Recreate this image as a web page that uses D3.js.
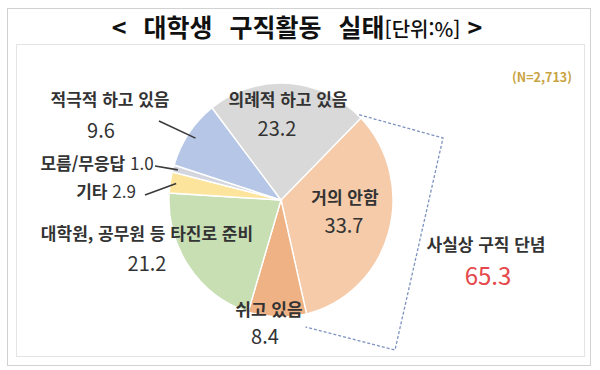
<!DOCTYPE html>
<html lang="ko">
<head>
<meta charset="UTF-8">
<title>대학생 구직활동 실태</title>
<script src="https://d3js.org/d3.v7.min.js"></script>
<style>
  body { margin: 0; background: #fff; }
  svg { display: block; }
  text { font-family: "Noto Sans CJK KR", "Noto Sans", sans-serif; fill: #333; }
  .lbl { font-size: 17px; font-weight: 700; }
  .val { font-size: 20px; font-weight: 400; }
  .num { font-weight: 400; }
</style>
</head>
<body>
<script>
// data
const categories = ["거의 안함", "쉬고 있음", "대학원, 공무원 등 타진로 준비", "기타", "모름/무응답", "적극적 하고 있음", "의례적 하고 있음"];
const shares = [33.7, 8.4, 21.2, 2.9, 1.0, 9.6, 23.2];
const sliceColors = ["#f5cbaa", "#eeb285", "#c8dfb4", "#fde49c", "#d3d6df", "#b5c6e6", "#d9d9d9"];
const giveUp = ["거의 안함", "쉬고 있음", "의례적 하고 있음"];
const sampleText = "(N=2,713)";

const width = 600, height = 370;
const cx = 281, cy = 200, R = 112, sy = 1.045;
const startDeg = 45.5;

const svg = d3.select("body").append("svg")
  .attr("width", width).attr("height", height);

// frames
svg.append("rect").attr("x", 7.5).attr("y", 8.5).attr("width", 583).attr("height", 357)
  .attr("fill", "#fff").attr("stroke", "#d2d2d2");
svg.append("rect").attr("x", 16.5).attr("y", 44.5).attr("width", 568).attr("height", 312)
  .attr("fill", "#fff").attr("stroke", "#e4e4e4");

// title
const title = svg.append("text").attr("x", 297).attr("y", 37)
  .attr("text-anchor", "middle").style("fill", "#111");
title.append("tspan").attr("font-size", 25).attr("font-weight", 700)
  .attr("word-spacing", "10px").text("< 대학생 구직활동 실태");
title.append("tspan").attr("font-size", 20).attr("font-weight", 500).text("[단위:%]");
title.append("tspan").attr("font-size", 25).attr("font-weight", 700).text(" >");

const pie = d3.pie().sort(null).value(d => d.v)
  .startAngle(startDeg * Math.PI / 180)
  .endAngle((startDeg + 360) * Math.PI / 180);
const rows = categories.map((c, i) => ({ c, v: shares[i], col: sliceColors[i] }));
const arcs = pie(rows);
const arc = d3.arc().innerRadius(0).outerRadius(R);

const gPie = svg.append("g").attr("transform", `translate(${cx},${cy}) scale(1,${sy})`);
gPie.selectAll("path").data(arcs).enter().append("path")
  .attr("d", arc)
  .attr("fill", d => d.data.col)
  .attr("stroke", "#fff").attr("stroke-width", 1.4);

// point on pie at angle a, radius r, in page coords
function pt(a, r) {
  return [cx + r * Math.sin(a), cy - r * Math.cos(a) * sy];
}
const byName = {};
arcs.forEach(d => byName[d.data.c] = d);

// label layout (label centre, value centre)
const labelPos = {
  "의례적 하고 있음": { l: [288, 100], v: [277, 129] },
  "거의 안함": { l: [345, 198], v: [344, 226] },
  "쉬고 있음": { l: [269, 310], v: [265, 337] },
  "대학원, 공무원 등 타진로 준비": { l: [147, 234], v: [147, 264] },
  "적극적 하고 있음": { l: [110, 100], v: [101, 131] }
};
const inlinePos = {
  "모름/무응답": { p: [97, 164], from: [155, 166] },
  "기타": { p: [106, 192], from: [145, 195] }
};

const gLab = svg.append("g");
Object.keys(labelPos).forEach(k => {
  const p = labelPos[k];
  gLab.append("text").attr("class", "lbl").attr("text-anchor", "middle")
    .attr("x", p.l[0]).attr("y", p.l[1]).attr("dy", "0.36em").text(k);
  gLab.append("text").attr("class", "val").attr("text-anchor", "middle")
    .attr("x", p.v[0]).attr("y", p.v[1]).attr("dy", "0.36em")
    .text(byName[k].data.v.toFixed(1));
});
Object.keys(inlinePos).forEach(k => {
  const p = inlinePos[k];
  const t = gLab.append("text").attr("class", "lbl").attr("text-anchor", "middle")
    .attr("x", p.p[0]).attr("y", p.p[1]).attr("dy", "0.36em");
  t.append("tspan").text(k + " ");
  t.append("tspan").attr("class", "num").text(byName[k].data.v.toFixed(1));
});

// leader lines
const leaders = [
  { k: "적극적 하고 있음", from: [159, 121], r: 104 },
  { k: "모름/무응답", from: inlinePos["모름/무응답"].from, r: 107 },
  { k: "기타", from: inlinePos["기타"].from, r: 106 }
];
leaders.forEach(l => {
  const d = byName[l.k];
  const to = pt((d.startAngle + d.endAngle) / 2, l.r);
  svg.append("line")
    .attr("x1", l.from[0]).attr("y1", l.from[1])
    .attr("x2", to[0]).attr("y2", to[1])
    .attr("stroke", "#3a3a3a").attr("stroke-width", 1.6);
});

// bracket around the give-up share
const bTop = pt(byName["거의 안함"].startAngle - 0.03, R + 1);
const bBot = pt(byName["거의 안함"].endAngle + 0.03, R + 12);
svg.append("path")
  .attr("d", d3.line()([bTop, [443, 138], [395, 350], bBot]))
  .attr("fill", "none").attr("stroke", "#7d93bf").attr("stroke-width", 1.3)
  .attr("stroke-dasharray", "3,2");

const giveUpSum = d3.sum(giveUp, k => byName[k].data.v);
svg.append("text").attr("class", "lbl").attr("text-anchor", "middle")
  .attr("x", 486).attr("y", 245).attr("dy", "0.36em").text("사실상 구직 단념");
svg.append("text").attr("text-anchor", "middle")
  .attr("x", 488).attr("y", 276).attr("dy", "0.36em")
  .attr("font-size", 24).style("fill", "#e5484a")
  .text(giveUpSum.toFixed(1));

svg.append("text").attr("text-anchor", "middle")
  .attr("x", 542).attr("y", 77).attr("dy", "0.36em")
  .attr("font-size", 12.5).attr("font-weight", 700).style("fill", "#c9a443")
  .text(sampleText);
</script>
</body>
</html>
